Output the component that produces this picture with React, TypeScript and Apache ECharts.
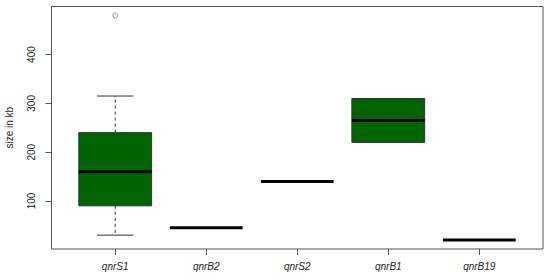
import React, { useEffect, useRef } from "react";
import * as echarts from "echarts";

const categories = ["qnrS1", "qnrB2", "qnrS2", "qnrB1", "qnrB19"];
const lowerWhisker = [30, 45, 140, 220, 20];
const q1 = [90, 45, 140, 220, 20];
const median = [160, 45, 140, 265, 20];
const q3 = [240, 45, 140, 310, 20];
const upperWhisker = [315, 45, 140, 310, 20];
const outliers: [number, number][] = [[1, 480]];
const yTicks = [100, 200, 300, 400];
const xTicks = [1, 2, 3, 4, 5];

export default function App() {
  const ref = useRef<HTMLDivElement>(null);
  useEffect(() => {
    if (!ref.current) return;
    const chart = echarts.init(ref.current, undefined, { renderer: "svg" });
    const boxData = categories.map((_, i) => [
      i + 1,
      lowerWhisker[i],
      q1[i],
      median[i],
      q3[i],
      upperWhisker[i],
    ]);
    const textStyle = { fontFamily: "Liberation Sans, Arial, sans-serif", fontSize: 10, color: "#222" };
    chart.setOption({
      animation: false,
      grid: {
        left: 51.5,
        right: 7,
        top: 6.5,
        bottom: 31,
        show: true,
        borderColor: "#555",
        borderWidth: 1,
        backgroundColor: "transparent",
        containLabel: false,
        outerBoundsMode: "none",
      },
      xAxis: {
        type: "value",
        min: 0.3,
        max: 5.7,
        splitLine: { show: false },
        axisLine: { show: false },
        axisTick: { show: true, customValues: xTicks, length: 6, lineStyle: { color: "#555" } },
        axisLabel: {
          customValues: xTicks,
          margin: 12,
          ...textStyle,
          fontStyle: "italic",
          formatter: (v: number) => categories[Math.round(v) - 1] ?? "",
        },
      },
      yAxis: {
        type: "value",
        min: 1.6,
        max: 498.4,
        name: "size in kb",
        nameLocation: "middle",
        nameGap: 37,
        nameTextStyle: { ...textStyle },
        splitLine: { show: false },
        axisLine: { show: false },
        axisTick: { show: true, customValues: yTicks, length: 6, lineStyle: { color: "#555" } },
        axisLabel: {
          customValues: yTicks,
          rotate: 90,
          margin: 15,
          ...textStyle,
        },
      },
      series: [
        {
          type: "custom",
          data: boxData,
          renderItem: (params: any, api: any) => {
            const x = api.value(0);
            const lo = api.value(1);
            const b1 = api.value(2);
            const med = api.value(3);
            const b3 = api.value(4);
            const hi = api.value(5);
            const w = api.size([0.8, 0])[0];
            const cw = api.size([0.4, 0])[0];
            const c = api.coord([x, med]);
            const pLo = api.coord([x, lo]);
            const p1 = api.coord([x, b1]);
            const p3 = api.coord([x, b3]);
            const pHi = api.coord([x, hi]);
            const children: any[] = [];
            const stroke = "#333";
            if (hi > b3) {
              children.push({
                type: "line",
                shape: { x1: c[0], y1: p3[1], x2: c[0], y2: pHi[1] },
                style: { stroke, lineWidth: 1, lineDash: [3, 3] },
              });
              children.push({
                type: "line",
                shape: { x1: c[0] - cw / 2, y1: pHi[1], x2: c[0] + cw / 2, y2: pHi[1] },
                style: { stroke, lineWidth: 1 },
              });
            }
            if (lo < b1) {
              children.push({
                type: "line",
                shape: { x1: c[0], y1: p1[1], x2: c[0], y2: pLo[1] },
                style: { stroke, lineWidth: 1, lineDash: [3, 3] },
              });
              children.push({
                type: "line",
                shape: { x1: c[0] - cw / 2, y1: pLo[1], x2: c[0] + cw / 2, y2: pLo[1] },
                style: { stroke, lineWidth: 1 },
              });
            }
            if (b3 > b1) {
              children.push({
                type: "rect",
                shape: { x: c[0] - w / 2, y: p3[1], width: w, height: p1[1] - p3[1] },
                style: { fill: "#006400", stroke, lineWidth: 1 },
              });
            }
            children.push({
              type: "line",
              shape: { x1: c[0] - w / 2, y1: c[1], x2: c[0] + w / 2, y2: c[1] },
              style: { stroke: "#000", lineWidth: 3 },
            });
            return { type: "group", children };
          },
        },
        {
          type: "scatter",
          data: outliers,
          symbol: "circle",
          symbolSize: 5,
          itemStyle: { color: "#fff", borderColor: "#555", borderWidth: 0.8 },
        },
      ],
    });
    return () => chart.dispose();
  }, []);
  return (
    <div
      ref={ref}
      style={{ position: "fixed", left: 0, top: 0, width: 550, height: 280, background: "#fff" }}
    />
  );
}
